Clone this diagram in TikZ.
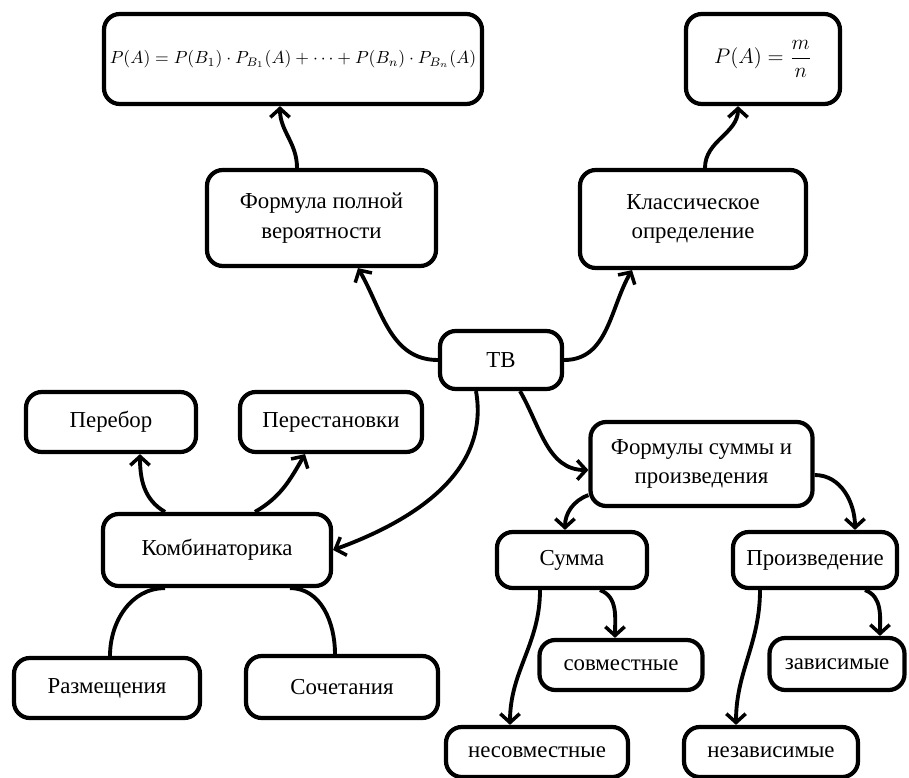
\documentclass[tikz,border=0pt]{standalone}
\usepackage{fontspec}
\setmainfont{Liberation Serif}
\usepackage{amsmath}
\usetikzlibrary{arrows.meta}

\begin{document}
\begin{tikzpicture}[
    box/.style={draw, line width=2.4pt, rounded corners=9pt, align=center,
                font=\fontsize{13}{17}\selectfont, inner sep=2pt},
    arr/.style={line width=2.2pt, -{Straight Barb[length=5pt, width=11pt, line width=2pt]}},
    link/.style={line width=2.2pt},
]
% Canvas: 909 x 778 px, 1 px = 0.02 cm
\useasboundingbox (0,0) rectangle (18.18,-15.56);

% Formulas (top)
\node[box, minimum width=7.56cm, minimum height=1.8cm, font=\fontsize{9.7}{12}\selectfont] (fpv) at (5.86,-1.18)
    {$P(A)=P(B_1)\cdot P_{B_1}(A)+\dots+P(B_n)\cdot P_{B_n}(A)$};
\node[box, minimum width=3.08cm, minimum height=1.8cm] (fmn) at (15.26,-1.18)
    {$P(A)=\dfrac{m}{n}$};

% Main branches
\node[box, minimum width=4.58cm, minimum height=1.92cm] (fullprob) at (6.43,-4.36)
    {Формула полной\\вероятности};
\node[box, minimum width=4.52cm, minimum height=1.96cm] (classic) at (13.86,-4.38)
    {Классическое\\определение};
\node[box, minimum width=2.44cm, minimum height=1.16cm] (tv) at (10.02,-7.2) {ТВ};

% Combinatorics
\node[box, minimum width=3.4cm, minimum height=1.2cm] (perebor) at (2.22,-8.44) {Перебор};
\node[box, minimum width=3.64cm, minimum height=1.2cm] (perest) at (6.62,-8.44) {Перестановки};
\node[box, minimum width=4.56cm, minimum height=1.44cm] (komb) at (4.34,-11.0) {Комбинаторика};
\node[box, minimum width=3.72cm, minimum height=1.2cm] (razm) at (2.14,-13.76) {Размещения};
\node[box, minimum width=3.84cm, minimum height=1.24cm] (soch) at (6.84,-13.74) {Сочетания};

% Sum and product
\node[box, minimum width=4.44cm, minimum height=1.68cm] (fsum) at (14.03,-9.28)
    {Формулы суммы и\\произведения};
\node[box, minimum width=3.0cm, minimum height=1.12cm] (summa) at (11.44,-11.2) {Сумма};
\node[box, minimum width=3.28cm, minimum height=1.12cm] (proizv) at (16.3,-11.2) {Произведение};
\node[box, minimum width=3.26cm, minimum height=1.0cm] (sovm) at (12.42,-13.3) {совместные};
\node[box, minimum width=3.64cm, minimum height=1.0cm] (nesovm) at (10.74,-15.04) {несовместные};
\node[box, minimum width=2.7cm, minimum height=1.04cm] (zavis) at (16.74,-13.28) {зависимые};
\node[box, minimum width=3.48cm, minimum height=1.0cm] (nezavis) at (15.42,-15.04) {независимые};

% Connectors from the centre
\draw[arr] (tv.west) to[out=180, in=-60] ([xshift=0.73cm]fullprob.south);
\draw[arr] (tv.east) to[out=0, in=-120] ([xshift=-1.22cm]classic.south);
\draw[arr] ([xshift=-0.5cm]tv.south) to[out=-80, in=20] (komb.east);
\draw[arr] ([xshift=0.38cm]tv.south) to[out=-60, in=180] ([yshift=-0.12cm]fsum.west);

% Up to the formulas
\draw[arr] ([xshift=-0.49cm]fullprob.north) to[out=90, in=-90] ([xshift=-0.26cm]fpv.south);
\draw[arr] ([xshift=0.24cm]classic.north) to[out=90, in=-90] ([xshift=-0.5cm]fmn.south);

% Combinatorics
\draw[arr] ([xshift=-1.04cm]komb.north) to[out=150, in=-90] ([xshift=0.58cm]perebor.south);
\draw[arr] ([xshift=0.76cm]komb.north) to[out=30, in=-120] ([xshift=-0.52cm]perest.south);
\draw[link] ([xshift=-1.04cm]komb.south) to[out=180, in=90] ([xshift=0.06cm]razm.north);
\draw[link] ([xshift=1.46cm]komb.south) to[out=0, in=90] ([xshift=-0.14cm]soch.north);

% Sum and product
\draw[arr] ([yshift=0.26cm]fsum.south west) to[out=-160, in=90] ([xshift=-0.14cm]summa.north);
\draw[arr] ([yshift=-0.22cm]fsum.east) to[out=0, in=90] ([xshift=0.8cm]proizv.north);
\draw[arr] ([xshift=-0.64cm]summa.south) to[out=-90, in=90] ([xshift=-0.54cm]nesovm.north);
\draw[arr] ([xshift=0.56cm]summa.south) to[out=-20, in=90] ([xshift=-0.12cm]sovm.north);
\draw[arr] ([xshift=-1.1cm]proizv.south) to[out=-90, in=90] ([xshift=-0.7cm]nezavis.north);
\draw[arr] ([xshift=1.0cm]proizv.south) to[out=-20, in=90] ([xshift=0.86cm]zavis.north);

\end{tikzpicture}
\end{document}
